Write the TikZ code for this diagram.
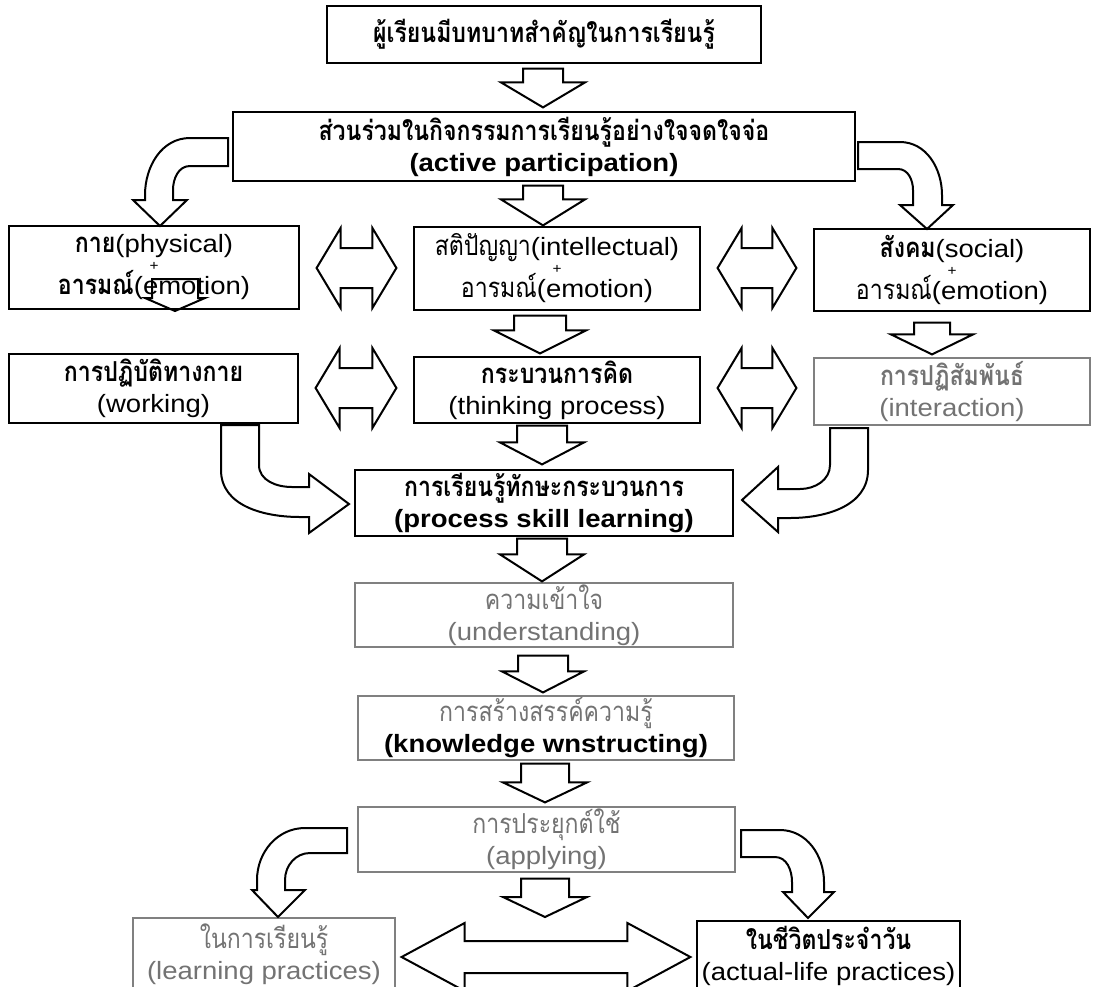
\documentclass[tikz,border=0pt]{standalone}
\usepackage{fontspec}
\setmainfont{Liberation Sans}[FakeStretch=1.1]
\newfontfamily\thai[Script=Thai,Scale=1.1,FakeStretch=0.84]{Loma}
\usetikzlibrary{calc}

\newcommand\tht[1]{{\thai #1}}
\newcommand\thb[1]{{\thai\bfseries #1}}
\newcommand\plus{{\fontsize{14}{14}\selectfont +}}

% down block arrow: x, from, to, gap top, gap bottom, shaft half, head half, head length
\newcommand\blkdown[8]{%
 \draw[blk] let \p1=(#2), \p2=(#3) in
  ({#1pt-#6pt},{\y1-#4pt}) -- ({#1pt+#6pt},{\y1-#4pt})
  -- ({#1pt+#6pt},{\y2+#5pt+#8pt}) -- ({#1pt+#7pt},{\y2+#5pt+#8pt})
  -- ({#1pt},{\y2+#5pt}) -- ({#1pt-#7pt},{\y2+#5pt+#8pt})
  -- ({#1pt-#6pt},{\y2+#5pt+#8pt}) -- cycle;}

% left-right block arrow: from, to, y, gap, shaft half, head half, head length
\newcommand\blkboth[7]{%
 \draw[blk] let \p1=(#1), \p2=(#2) in
  ({\x1+#4pt},{-#3pt}) -- ({\x1+#4pt+#7pt},{-#3pt+#6pt}) -- ({\x1+#4pt+#7pt},{-#3pt+#5pt})
  -- ({\x2-#4pt-#7pt},{-#3pt+#5pt}) -- ({\x2-#4pt-#7pt},{-#3pt+#6pt}) -- ({\x2-#4pt},{-#3pt})
  -- ({\x2-#4pt-#7pt},{-#3pt-#6pt}) -- ({\x2-#4pt-#7pt},{-#3pt-#5pt})
  -- ({\x1+#4pt+#7pt},{-#3pt-#5pt}) -- ({\x1+#4pt+#7pt},{-#3pt-#6pt}) -- cycle;}

\begin{document}
\begin{tikzpicture}[x=1pt,y=-1pt,
  box/.style={draw,line width=1.2pt,inner sep=0pt,align=center,font=\fontsize{25}{31}\selectfont},
  pale/.style={draw=black!50,text=black!55},
  blk/.style={draw,line width=2pt,line join=miter}]
\useasboundingbox (0,0) rectangle (1097,986);

% boxes
\node[box,minimum width=434pt,minimum height=57pt] (top) at (544,34.5) {\thb{ผู้เรียนมีบทบาทสำคัญในการเรียนรู้}};
\node[box,minimum width=622pt,minimum height=69pt] (act) at (544,146.5) {\thb{ส่วนร่วมในกิจกรรมการเรียนรู้อย่างใจจดใจจ่อ}\\\textbf{(active participation)}};

\node[box,minimum width=290pt,minimum height=83pt] (r1L) at (154,267.5) {\thb{กาย}(physical)\\[-13pt]\plus\\[-7pt]\thb{อารมณ์}(emotion)};
\node[box,minimum width=286pt,minimum height=83pt] (r1M) at (557,268.5) {\tht{สติปัญญา}(intellectual)\\[-13pt]\plus\\[-7pt]\tht{อารมณ์}(emotion)};
\node[box,minimum width=276pt,minimum height=82pt] (r1R) at (952,270) {\thb{สังคม}(social)\\[-13pt]\plus\\[-7pt]\tht{อารมณ์}(emotion)};

\node[box,minimum width=289pt,minimum height=69pt] (r2L) at (153.5,388.5) {\thb{การปฏิบัติทางกาย}\\(working)};
\node[box,minimum width=286pt,minimum height=66pt] (r2M) at (557,390) {\thb{กระบวนการคิด}\\(thinking process)};
\node[box,pale,minimum width=276pt,minimum height=67pt] (r2R) at (952,391.5) {\thb{การปฏิสัมพันธ์}\\(interaction)};

\node[box,minimum width=378pt,minimum height=66pt] (proc) at (544,503) {\thb{การเรียนรู้ทักษะกระบวนการ}\\\textbf{(process skill learning)}};
\node[box,pale,minimum width=378pt,minimum height=64pt] (und) at (544,615) {\tht{ความเข้าใจ}\\(understanding)};
\node[box,draw=black!50,minimum width=376pt,minimum height=64pt] (know) at (546,728) {{\color{black!55}\tht{การสร้างสรรค์ความรู้}}\\\textbf{(knowledge wnstructing)}};
\node[box,pale,minimum width=377pt,minimum height=65pt] (app) at (546.5,839.5) {\tht{การประยุกต์ใช้}\\(applying)};

\node[box,pale,minimum width=262pt,minimum height=72pt] (bL) at (264,954) {\tht{ในการเรียนรู้}\\(learning practices)};
\node[box,minimum width=263pt,minimum height=69pt] (bR) at (828.5,955.5) {\thb{ในชีวิตประจำวัน}\\(actual-life practices)};

\coordinate (e1) at (175,279);
\coordinate (e2) at (175,311);
\coordinate (mid) at (545,917);

% straight arrows
\blkdown{543}{top.south}{act.north}{5}{4}{20}{42}{25}
\blkdown{543}{act.south}{r1M.north}{4}{1}{20}{42}{26}
\blkdown{540}{r1M.south}{r2M.north}{5}{3}{26}{46}{23}
\blkdown{932}{r1R.south}{r2R.north}{11}{3}{18}{41}{20}
\blkdown{175}{e1}{e2}{0}{0}{23}{30}{13}
\blkdown{542}{r2M.south}{proc.north}{2}{5}{25}{42}{22}
\blkdown{542}{proc.south}{und.north}{2}{1}{25}{42}{27}
\blkdown{543}{und.south}{know.north}{8}{3}{25}{41}{21}
\blkdown{545}{know.south}{app.north}{3}{4}{24}{42}{20}
\blkdown{545}{app.south}{mid}{6}{0}{24}{42}{20}

\blkboth{r1L.east}{r1M.west}{268}{17}{20}{40}{24}
\blkboth{r1M.east}{r1R.west}{268}{17}{20}{40}{24}
\blkboth{r2L.east}{r2M.west}{388}{17}{20}{40}{24}
\blkboth{r2M.east}{r2R.west}{388}{17}{20}{40}{24}
\blkboth{bL.east}{bR.west}{957}{6}{16}{34}{63}

% curved arrows
\draw[blk] (228,138) -- (190,138) to[out=180,in=90] (145,195) -- (145,200) -- (133,200) -- (160,226)
  -- (187,200) -- (173,200) -- (173,190) to[out=90,in=180] (190,166) -- (228,166) -- cycle;
\draw[blk] (858,142) -- (900,142) to[out=0,in=90] (942,195) -- (942,205) -- (953,205) -- (927,229)
  -- (900,205) -- (913,205) -- (913,190) to[out=90,in=0] (898,169) -- (858,169) -- cycle;
\draw[blk] (221,425) -- (221,470) to[out=-90,in=180] (300,517) -- (309,517) -- (309,533) -- (349,504)
  -- (309,474) -- (309,487) -- (292,487) to[out=180,in=-90] (259,465) -- (259,425) -- cycle;
\draw[blk] (868,428) -- (868,470) to[out=-90,in=0] (790,518) -- (778,518) -- (778,532) -- (742,500)
  -- (778,467) -- (778,489) -- (800,489) to[out=0,in=-90] (830,465) -- (830,428) -- cycle;
\draw[blk] (347,828) -- (305,828) to[out=180,in=90] (257,880) -- (257,890) -- (252,890) -- (278,917)
  -- (305,890) -- (285,890) -- (285,880) to[out=90,in=180] (310,853) -- (347,853) -- cycle;
\draw[blk] (741,830) -- (780,830) to[out=0,in=90] (824,882) -- (824,892) -- (834,892) -- (808,918)
  -- (783,892) -- (792,892) -- (792,882) to[out=90,in=0] (775,857) -- (741,857) -- cycle;
\end{tikzpicture}
\end{document}
